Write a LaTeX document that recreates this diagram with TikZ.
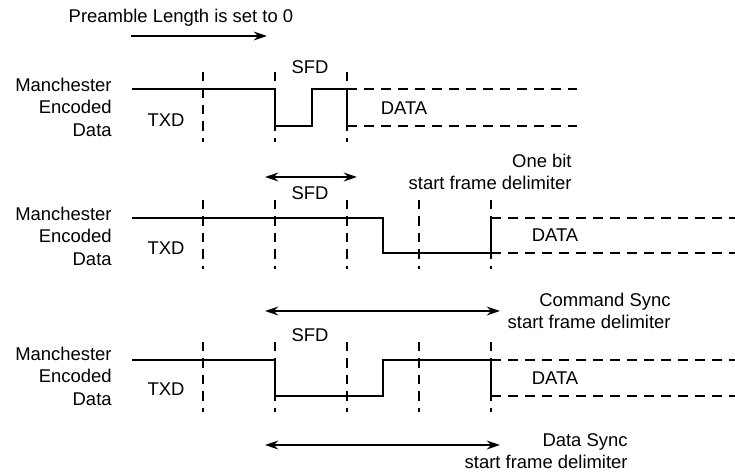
\documentclass[tikz,border=0pt]{standalone}
\usepackage{fontspec}
\setmainfont{Liberation Sans}
\usetikzlibrary{arrows.meta}
\begin{document}
\begin{tikzpicture}[x=0.02cm, y=-0.02cm, >={Stealth[length=7.5pt, width=5pt]},
        every node/.style={font=\fontsize{10.5}{12.8}\selectfont, inner sep=0pt},
        sig/.style={line width=1.4pt},
        tick/.style={line width=1pt, dash pattern=on 0.19cm off 0.14cm},
        dat/.style={line width=1.4pt, dash pattern=on 0.2cm off 0.14cm},
        span/.style={<->, line width=1.3pt}]
    \useasboundingbox (0,0) rectangle (735,472);
    % preamble arrow
    \node (pre) at (181,18) {Preamble Length is set to 0};
    \coordinate (p1) at (131,36);
    \coordinate (p2) at (267,36);
    \draw[->, line width=1.3pt] (p1) -- (p2);
    % row labels
    \foreach \r/\y/\t in {a/107/120, b/236/248, c/376/389} {
        \node[align=right, anchor=east] (man\r) at (112,\y) {Manchester\\Encoded\\Data};
        \node (txd\r) at (166,\t) {TXD};
    }
    % bit boundaries
    \foreach \x in {203,275,347} \draw[tick] (\x,72) -- (\x,142);
    \foreach \x in {203,275,347,419,491} \draw[tick] (\x,200) -- (\x,269);
    \foreach \x in {203,275,347,419,491} \draw[tick] (\x,342) -- (\x,412);
    % row 1: preamble length 0
    \node (sfda) at (310,67) {SFD};
    \node (dataa) at (404,108) {DATA};
    \draw[sig] (132,89) -- (275,89) -- (275,126) -- (312,126) -- (312,89) -- (347,89) -- (347,126);
    \draw[dat] (347,89) -- (577,89);
    \draw[dat] (347,126) -- (577,126);
    % row 2: one bit sfd
    \node (sfdb) at (310,193) {SFD};
    \node (datab) at (555,235) {DATA};
    \coordinate (b1) at (265,177);
    \coordinate (b2) at (357,177);
    \draw[span] (b1) -- (b2);
    \node[align=right, anchor=east] (onebit) at (572,172) {One bit\\start frame delimiter};
    \draw[sig] (132,218) -- (383,218) -- (383,253) -- (491,253) -- (491,218);
    \draw[dat] (491,218) -- (735,218);
    \draw[dat] (491,253) -- (735,253);
    % row 3: command / data sync
    \node (sfdc) at (310,335) {SFD};
    \node (datac) at (555,378) {DATA};
    \coordinate (c1) at (265,311);
    \coordinate (c2) at (500,311);
    \draw[span] (c1) -- (c2);
    \node[align=right, anchor=east] (cmdsync) at (671,311) {Command Sync\\start frame delimiter};
    \draw[sig] (132,360) -- (275,360) -- (275,396) -- (383,396) -- (383,360) -- (491,360) -- (491,396);
    \draw[dat] (491,360) -- (735,360);
    \draw[dat] (491,396) -- (735,396);
    \coordinate (d1) at (265,445);
    \coordinate (d2) at (500,445);
    \draw[span] (d1) -- (d2);
    \node[align=right, anchor=east] (datsync) at (628,451) {Data Sync\\start frame delimiter};
\end{tikzpicture}
\end{document}
